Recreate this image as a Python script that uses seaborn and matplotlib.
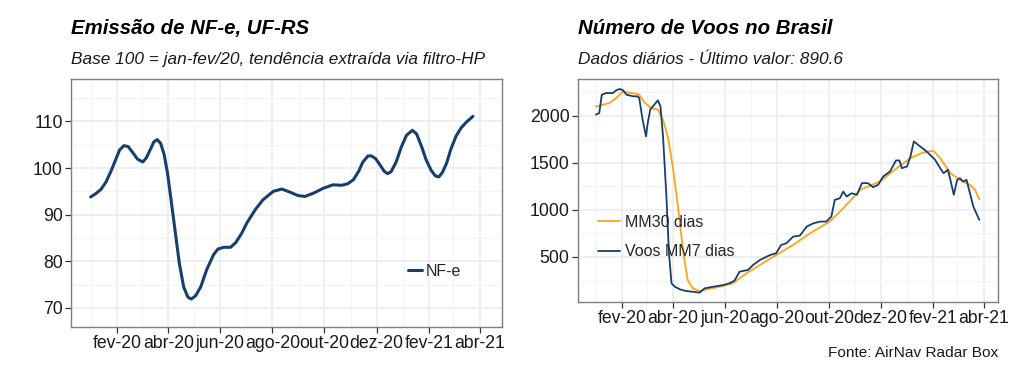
import matplotlib
matplotlib.use("Agg")
import matplotlib.pyplot as plt
import matplotlib.dates as mdates
import seaborn as sns
import pandas as pd

# ---- Data: NF-e (Base 100) ----
nfe_dates = ["2020-01-01", "2020-01-07", "2020-01-13", "2020-01-19", "2020-01-25", "2020-01-31",
             "2020-02-04", "2020-02-09", "2020-02-14", "2020-02-19", "2020-02-25", "2020-03-02",
             "2020-03-06", "2020-03-11", "2020-03-15", "2020-03-19", "2020-03-23", "2020-03-27",
             "2020-03-31", "2020-04-04", "2020-04-09", "2020-04-14", "2020-04-19", "2020-04-24",
             "2020-04-28", "2020-05-03", "2020-05-09", "2020-05-16", "2020-05-24", "2020-05-29",
             "2020-06-05", "2020-06-13", "2020-06-19", "2020-06-26", "2020-07-02", "2020-07-12",
             "2020-07-21", "2020-08-02", "2020-08-12", "2020-08-22", "2020-08-31", "2020-09-08",
             "2020-09-18", "2020-09-30", "2020-10-11", "2020-10-21", "2020-10-28", "2020-11-04",
             "2020-11-10", "2020-11-15", "2020-11-21", "2020-11-25", "2020-11-30", "2020-12-05",
             "2020-12-10", "2020-12-14", "2020-12-18", "2020-12-24", "2020-12-30", "2021-01-05",
             "2021-01-12", "2021-01-17", "2021-01-23", "2021-01-28", "2021-02-03", "2021-02-08",
             "2021-02-12", "2021-02-16", "2021-02-21", "2021-02-26", "2021-03-04", "2021-03-10",
             "2021-03-16", "2021-03-24"]
nfe_values = [93.8, 94.5, 95.4, 97.0, 99.4, 102.1,
              103.9, 104.8, 104.6, 103.4, 101.9, 101.3,
              102.1, 104.0, 105.6, 106.1, 105.3, 103.0,
              99.0, 93.5, 86.5, 79.5, 74.5, 72.3,
              71.9, 72.6, 74.5, 78.2, 81.4, 82.6,
              83.0, 83.0, 84.0, 86.0, 88.2, 91.1,
              93.2, 95.0, 95.5, 94.8, 94.1, 93.9,
              94.6, 95.7, 96.4, 96.3, 96.6, 97.5,
              99.3, 101.3, 102.6, 102.6, 102.0, 100.7,
              99.3, 98.8, 99.2, 101.3, 104.5, 107.0,
              108.1, 107.3, 104.5, 101.8, 99.5, 98.3,
              98.1, 99.0, 101.0, 104.0, 106.8, 108.6,
              109.8, 111.1]

# ---- Data: Voos MM7 dias (days since 2020-01-01) ----
voos7_days = [0, 4, 7, 12, 20, 24, 28, 32, 36, 44, 49, 51, 55, 59, 61, 64, 67, 73, 76, 79,
              83, 86, 89, 93, 99, 106, 114, 122, 128, 138, 150, 157, 163, 169, 179, 185, 193,
              205, 212, 218, 224, 232, 240, 248, 256, 264, 271, 277, 281, 287, 291, 295, 301,
              307, 313, 320, 326, 332, 338, 346, 353, 357, 360, 366, 370, 374, 379, 389, 399,
              405, 409, 414, 417, 421, 425, 428, 432, 436, 440, 444, 451]
voos7_values = [2011, 2028, 2223, 2241, 2241, 2270, 2284, 2270, 2223, 2206, 2206, 2188, 1957,
                1780, 1922, 2064, 2099, 2163, 2099, 1780, 1142, 539, 220, 184, 156, 138, 131,
                121, 167, 184, 202, 220, 248, 344, 362, 415, 468, 521, 539, 628, 645, 716, 727,
                823, 858, 876, 876, 929, 1106, 1124, 1195, 1142, 1177, 1160, 1284, 1284, 1241,
                1266, 1355, 1408, 1525, 1525, 1443, 1461, 1567, 1727, 1691, 1621, 1532, 1443,
                1390, 1426, 1319, 1160, 1319, 1337, 1301, 1319, 1177, 1035, 894]

# ---- Data: MM30 dias (days since 2020-01-01) ----
mm30_days = [0, 8, 16, 24, 32, 40, 48, 51, 57, 65, 73, 79, 85, 91, 97, 103, 108, 114, 122,
             130, 146, 161, 177, 193, 212, 232, 252, 275, 291, 311, 334, 354, 370, 385, 397,
             405, 417, 428, 440, 446, 451]
mm30_values = [2099, 2117, 2135, 2188, 2259, 2241, 2234, 2223, 2142, 2082, 2064, 1957, 1762,
               1426, 1000, 539, 255, 167, 138, 156, 184, 220, 326, 415, 521, 628, 752, 876,
               1018, 1213, 1301, 1443, 1550, 1610, 1628, 1550, 1390, 1319, 1266, 1213, 1113]

x_ticks = ["2020-02-01", "2020-04-01", "2020-06-01", "2020-08-01", "2020-10-01",
           "2020-12-01", "2021-02-01", "2021-04-01"]
x_tick_labels = ["fev-20", "abr-20", "jun-20", "ago-20", "out-20", "dez-20", "fev-21", "abr-21"]

NAVY = "#173f6d"
ORANGE = "#ffa415"

sns.set_theme(style="whitegrid")
plt.rcParams["font.family"] = ["Liberation Sans", "DejaVu Sans"]

fig = plt.figure(figsize=(10.24, 3.78), dpi=100)
ax1 = fig.add_axes([71 / 1024, 1 - 327 / 378, 431 / 1024, 248 / 378])
ax2 = fig.add_axes([578 / 1024, 1 - 301.7 / 378, 420 / 1024, 222.7 / 378])

start = pd.Timestamp("2020-01-01")
df_nfe = pd.DataFrame({"data": pd.to_datetime(nfe_dates), "valor": nfe_values, "serie": "NF-e"})
df_v7 = pd.DataFrame({"data": start + pd.to_timedelta(voos7_days, unit="D"),
                      "valor": voos7_values, "serie": "Voos MM7 dias"})
df_m30 = pd.DataFrame({"data": start + pd.to_timedelta(mm30_days, unit="D"),
                       "valor": mm30_values, "serie": "MM30 dias"})
df_voos = pd.concat([df_m30, df_v7], ignore_index=True)

sns.lineplot(data=df_nfe, x="data", y="valor", hue="serie", palette={"NF-e": NAVY},
             linewidth=2.2, ax=ax1)
sns.lineplot(data=df_voos, x="data", y="valor", hue="serie",
             palette={"MM30 dias": ORANGE, "Voos MM7 dias": NAVY},
             hue_order=["MM30 dias", "Voos MM7 dias"], linewidth=1.3, ax=ax2)
for ln in ax1.get_lines() + ax2.get_lines():
    ln.set_solid_joinstyle("round")

tick_dates = pd.to_datetime(x_ticks)
minor_dates = pd.to_datetime(["2020-01-01", "2020-03-01", "2020-05-01", "2020-07-01",
                              "2020-09-01", "2020-11-01", "2021-01-01", "2021-03-01"])

for ax in (ax1, ax2):
    ax.set_xticks(mdates.date2num(tick_dates))
    ax.set_xticklabels(x_tick_labels)
    ax.set_xticks(mdates.date2num(minor_dates), minor=True)
    ax.set_xlabel("")
    ax.set_ylabel("")
    ax.grid(True, which="major", color="#ebebeb", linewidth=1.1)
    ax.grid(True, which="minor", color="#f3f3f3", linewidth=0.6)
    ax.set_axisbelow(True)
    for s in ax.spines.values():
        s.set_color("#7f7f7f")
        s.set_linewidth(1.0)
    ax.tick_params(axis="both", which="major", length=4, width=0.9, color="#333333",
                   labelsize=12.7, labelcolor="#1a1a1a", pad=2, direction="out",
                   bottom=True, left=True)
    ax.tick_params(axis="both", which="minor", length=0)

ax1.set_xlim(mdates.date2num(pd.Timestamp("2019-12-09")), mdates.date2num(pd.Timestamp("2021-04-27")))
ax1.set_ylim(65.9, 119.1)
ax1.set_yticks([70, 80, 90, 100, 110])
ax1.set_yticks([75, 85, 95, 105, 115], minor=True)

ax2.set_xlim(mdates.date2num(pd.Timestamp("2019-12-11")), mdates.date2num(pd.Timestamp("2021-04-18")))
ax2.set_ylim(25, 2390)
ax2.set_yticks([500, 1000, 1500, 2000])
ax2.set_yticks([250, 750, 1250, 1750, 2250], minor=True)

leg1 = ax1.legend(loc="lower right", bbox_to_anchor=(0.93, 0.15), frameon=False, fontsize=11.5,
                  handlelength=0.9, handletextpad=0.2, borderpad=0.2)
leg2 = ax2.legend(loc="lower left", bbox_to_anchor=(0.02, 0.14), frameon=False, fontsize=11.5,
                  handlelength=1.4, handletextpad=0.3, labelspacing=0.9, borderpad=0.2)

fig.text(71 / 1024, 1 - 34 / 378, "Emissão de NF-e, UF-RS", fontsize=14.7, fontweight="bold",
         fontstyle="italic", color="black", va="baseline")
fig.text(71 / 1024, 1 - 64 / 378, "Base 100 = jan-fev/20, tendência extraída via filtro-HP",
         fontsize=12.4, fontstyle="italic", color="#1a1a1a", va="baseline")
fig.text(578 / 1024, 1 - 34 / 378, "Número de Voos no Brasil", fontsize=14.7, fontweight="bold",
         fontstyle="italic", color="black", va="baseline")
fig.text(578 / 1024, 1 - 64 / 378, "Dados diários - Último valor: 890.6",
         fontsize=12.4, fontstyle="italic", color="#1a1a1a", va="baseline")
fig.text(998 / 1024, 1 - 357 / 378, "Fonte: AirNav Radar Box", fontsize=11.1, color="#1a1a1a",
         ha="right", va="baseline")

fig.savefig("out.png", dpi=100, facecolor="white")
